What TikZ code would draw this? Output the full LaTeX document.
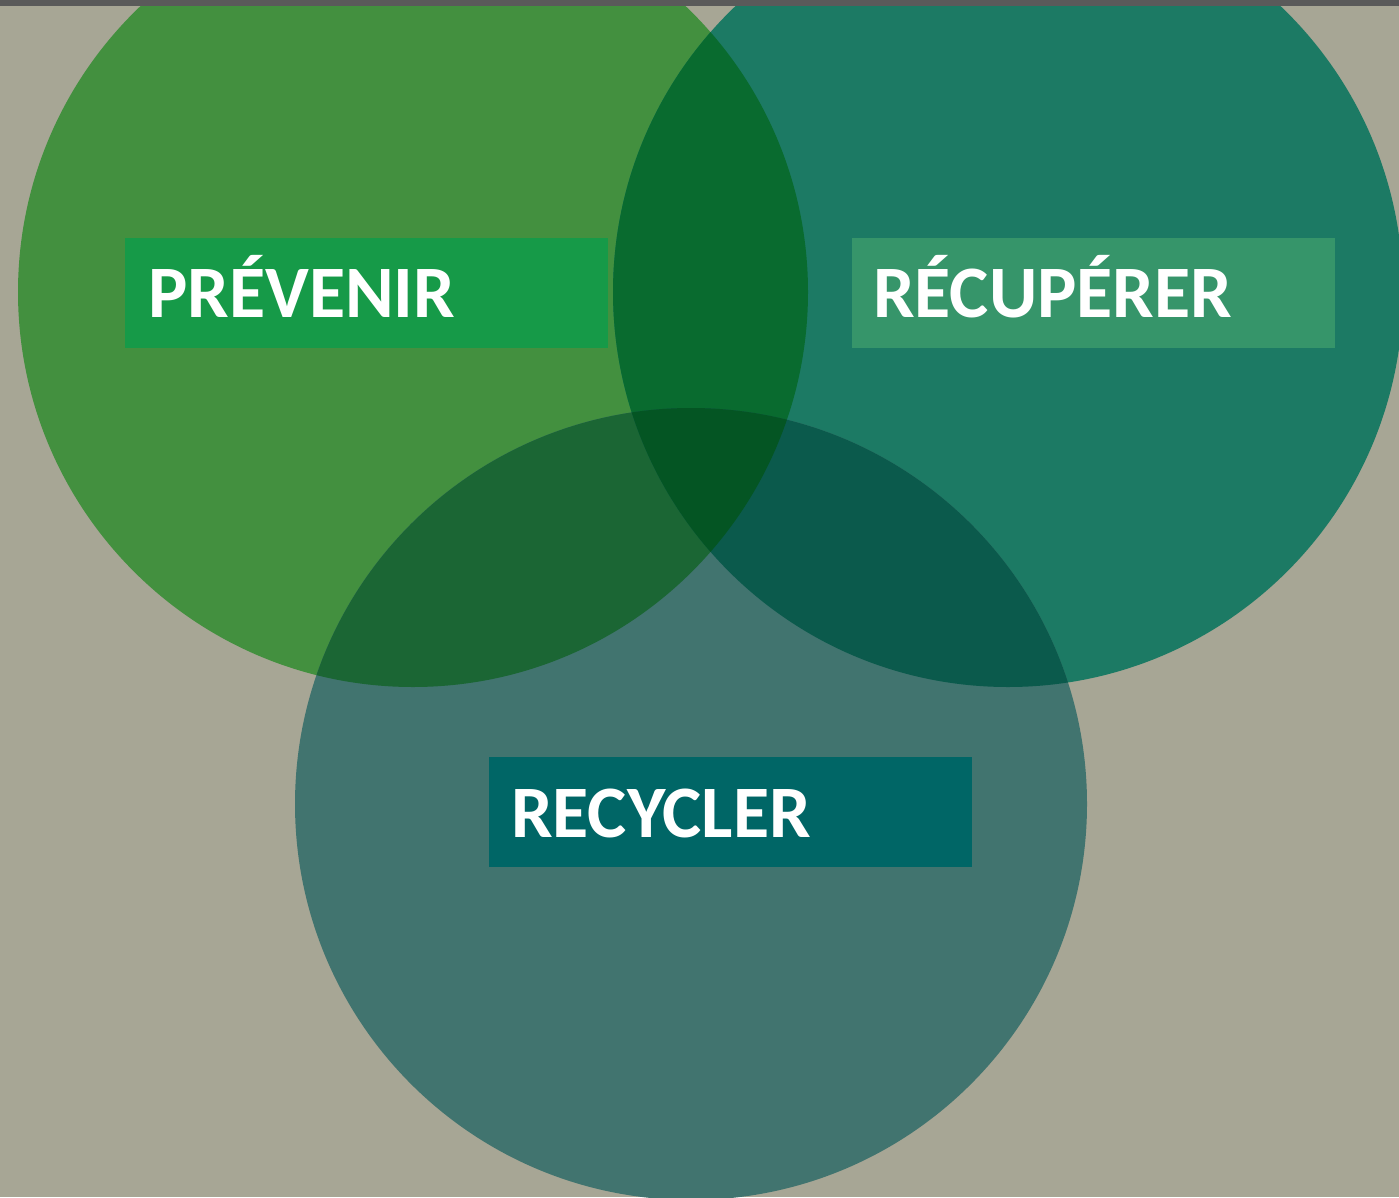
\documentclass[tikz,border=0pt]{standalone}
\usepackage{fontspec}
\setmainfont{Carlito}
\definecolor{bgc}{HTML}{A7A695}
\definecolor{topbar}{HTML}{5A5A5A}
\definecolor{cA}{HTML}{43903F}
\definecolor{cB}{HTML}{1C7A64}
\definecolor{cC}{HTML}{41746F}
\definecolor{cAB}{HTML}{096B2F}
\definecolor{cAC}{HTML}{1B6634}
\definecolor{cBC}{HTML}{0B5A4C}
\definecolor{cABC}{HTML}{045523}
\definecolor{boxA}{HTML}{169A48}
\definecolor{boxB}{HTML}{36956A}
\definecolor{boxC}{HTML}{006666}
\tikzset{
  labelbox/.style={rectangle, inner sep=0pt, minimum width=483pt, minimum height=110pt, anchor=north west},
  labeltext/.style={text=white, font=\fontsize{74}{80}\selectfont\bfseries, inner sep=0pt, anchor=base west}
}
\begin{document}
\begin{tikzpicture}[x=1pt,y=-1pt]
\useasboundingbox (0,0) rectangle (1399,1197);
\fill[bgc] (0,0) rectangle (1399,1197);
\def\cA{(413,292) circle (395)}
\def\cB{(1008,292) circle (395)}
\def\cC{(691,804) circle (396)}
\fill[cA] \cA;
\fill[cB] \cB;
\fill[cC] \cC;
\begin{scope}
  \clip \cA; \fill[cAB] \cB;
\end{scope}
\begin{scope}
  \clip \cA; \fill[cAC] \cC;
\end{scope}
\begin{scope}
  \clip \cB; \fill[cBC] \cC;
\end{scope}
\begin{scope}
  \clip \cA; \clip \cB; \fill[cABC] \cC;
\end{scope}
\fill[topbar] (0,0) rectangle (1399,6);
\node[labelbox, fill=boxA] (boxA) at (125,238) {};
\node[labelbox, fill=boxB] (boxB) at (852,238) {};
\node[labelbox, fill=boxC] (boxC) at (489,757) {};
\node[labeltext] (tA) at (148,317) {PRÉVENIR};
\node[labeltext] (tB) at (873,317) {RÉCUPÉRER};
\node[labeltext] (tC) at (511,837) {RECYCLER};
\end{tikzpicture}
\end{document}
